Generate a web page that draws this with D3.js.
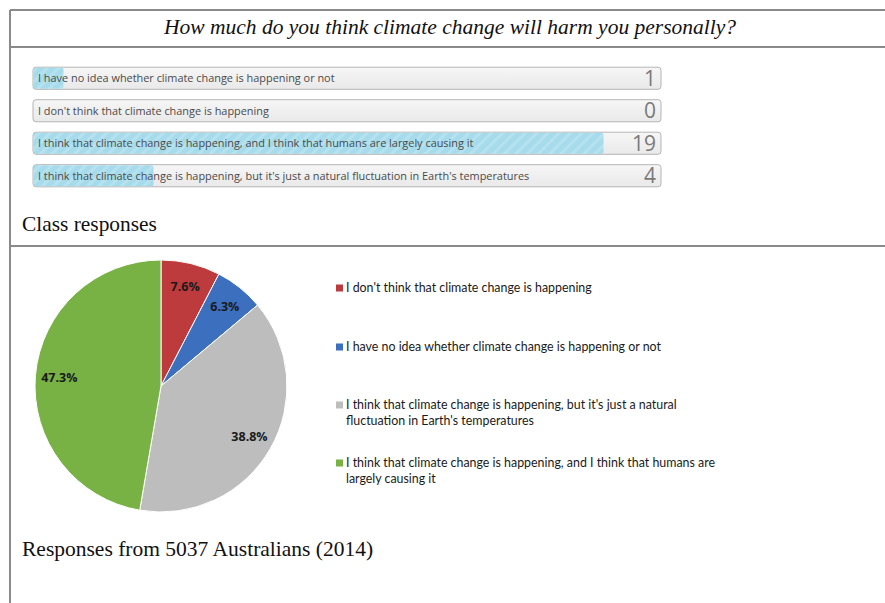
<!DOCTYPE html>
<html>
<head>
<meta charset="utf-8">
<script src="https://cdn.jsdelivr.net/npm/d3@7"></script>
<style>
  body { margin: 0; background: #fff; }
  svg { display: block; }
</style>
</head>
<body>
<svg id="chart"></svg>
<script>
var title = "How much do you think climate change will harm you personally?"

// class poll
var classLabels = [
    "I have no idea whether climate change is happening or not",
    "I don't think that climate change is happening",
    "I think that climate change is happening, and I think that humans are largely causing it",
    "I think that climate change is happening, but it's just a natural fluctuation in Earth's temperatures"
]
var classCounts = [1, 0, 19, 4]
var classCaption = "Class responses"

// survey pie
var pieNames = [
    ["I don't think that climate change is happening"],
    ["I have no idea whether climate change is happening or not"],
    ["I think that climate change is happening, but it's just a natural", "fluctuation in Earth's temperatures"],
    ["I think that climate change is happening, and I think that humans are", "largely causing it"]
]
var pieValues = [7.6, 6.3, 38.8, 47.3]
var pieColors = ["#be3b3d", "#3d6fbf", "#bdbdbd", "#78b245"]
var pieCaption = "Responses from 5037 Australians (2014)"

var width = 885
var height = 603

var svg = d3.select("#chart")
    .attr("width", width)
    .attr("height", height)

var defs = svg.append("defs")
var hatch = defs.append("pattern")
    .attr("id", "hatch")
    .attr("patternUnits", "userSpaceOnUse")
    .attr("width", 8)
    .attr("height", 8)
    .attr("patternTransform", "rotate(45)")
hatch.append("rect").attr("width", 8).attr("height", 8).attr("fill", "#a6dbeb")
hatch.append("rect").attr("width", 3).attr("height", 8).attr("fill", "#b6e2ef")

var grad = defs.append("linearGradient")
    .attr("id", "barbg")
    .attr("x1", 0).attr("y1", 0).attr("x2", 0).attr("y2", 1)
grad.append("stop").attr("offset", "0%").attr("stop-color", "#f6f6f6")
grad.append("stop").attr("offset", "100%").attr("stop-color", "#e9e9e9")

// frame lines
var frame = svg.append("g")
    .attr("stroke", "#8a8a8a")
    .attr("stroke-width", 2)
frame.append("line").attr("x1", 10).attr("x2", width).attr("y1", 10).attr("y2", 10)
frame.append("line").attr("x1", 10).attr("x2", width).attr("y1", 47).attr("y2", 47)
frame.append("line").attr("x1", 10).attr("x2", width).attr("y1", 246).attr("y2", 246)
frame.append("line").attr("x1", 10).attr("x2", 10).attr("y1", 10).attr("y2", height)

var serif = "'Liberation Serif', 'Times New Roman', serif"

svg.append("text")
    .attr("x", 450)
    .attr("y", 34)
    .attr("text-anchor", "middle")
    .style("font-family", serif)
    .style("font-style", "italic")
    .style("font-size", "21.5px")
    .style("fill", "#111")
    .text(title)

// bars
var x = d3.scaleLinear().domain([0, 20]).range([33, 633])
var y = d3.scaleBand().domain(d3.range(classLabels.length)).range([62, 192]).paddingInner(0.32).paddingOuter(0.16)
var barRight = 661

var rows = svg.append("g").selectAll("g")
    .data(classLabels)
    .enter()
    .append("g")

rows.append("rect")
    .attr("x", x(0))
    .attr("y", (d, i) => y(i))
    .attr("width", barRight - x(0))
    .attr("height", y.bandwidth())
    .attr("rx", 3)
    .attr("fill", "url(#barbg)")
    .attr("stroke", "#b5b5b5")

rows.append("rect")
    .attr("x", x(0) + 0.5)
    .attr("y", (d, i) => y(i) + 0.5)
    .attr("width", (d, i) => Math.max(0, x(classCounts[i]) - x(0)))
    .attr("height", y.bandwidth() - 1)
    .attr("rx", 2)
    .attr("fill", "url(#hatch)")

rows.append("text")
    .attr("x", x(0) + 5)
    .attr("y", (d, i) => y(i) + y.bandwidth() / 2)
    .attr("dy", "0.35em")
    .style("font-family", "'Open Sans', sans-serif")
    .style("font-size", "10.9px")
    .style("fill", "#4a4a4a")
    .text(d => d)

rows.append("text")
    .attr("x", barRight - 5)
    .attr("y", (d, i) => y(i) + y.bandwidth() / 2)
    .attr("dy", "0.36em")
    .attr("text-anchor", "end")
    .style("font-family", "'Open Sans', sans-serif")
    .style("font-size", "21px")
    .style("fill", "#7a7a7a")
    .text((d, i) => classCounts[i])

svg.append("text")
    .attr("x", 22)
    .attr("y", 231)
    .style("font-family", serif)
    .style("font-size", "21.4px")
    .style("fill", "#111")
    .text(classCaption)

// pie
var cx = 161, cy = 386, r = 126
var pie = d3.pie().sort(null).value(d => d)
var arc = d3.arc().innerRadius(0).outerRadius(r)
var labelArc = d3.arc().innerRadius(r * 0.81).outerRadius(r * 0.81)

var pg = svg.append("g").attr("transform", "translate(" + cx + "," + cy + ")")
var slices = pg.selectAll("g")
    .data(pie(pieValues))
    .enter()
    .append("g")

slices.append("path")
    .attr("d", arc)
    .attr("fill", (d, i) => pieColors[i])
    .attr("stroke", "#fff")
    .attr("stroke-width", 1)

slices.append("text")
    .attr("transform", d => "translate(" + labelArc.centroid(d) + ")")
    .attr("text-anchor", "middle")
    .attr("dy", "0.35em")
    .style("font-family", "'Open Sans', sans-serif")
    .style("font-weight", "bold")
    .style("font-size", "12.5px")
    .style("fill", "#1a1a1a")
    .text(d => d.data.toFixed(1) + "%")

// legend
var legendY = [288, 347, 405, 463]
var legend = svg.append("g").selectAll("g")
    .data(pieNames)
    .enter()
    .append("g")
    .attr("transform", (d, i) => "translate(336," + legendY[i] + ")")

legend.append("rect")
    .attr("x", 0)
    .attr("y", -3.5)
    .attr("width", 7)
    .attr("height", 7)
    .attr("fill", (d, i) => pieColors[i])

legend.append("text")
    .style("font-family", "Lato, 'Open Sans', sans-serif")
    .style("font-size", "12.4px")
    .style("fill", "#1a1a1a")
    .selectAll("tspan")
    .data(d => d)
    .enter()
    .append("tspan")
    .attr("x", 10)
    .attr("y", (d, i) => i * 15.5)
    .attr("dy", "0.35em")
    .text(d => d)

svg.append("text")
    .attr("x", 22)
    .attr("y", 556)
    .style("font-family", serif)
    .style("font-size", "21.5px")
    .style("fill", "#111")
    .text(pieCaption)
</script>
</body>
</html>
